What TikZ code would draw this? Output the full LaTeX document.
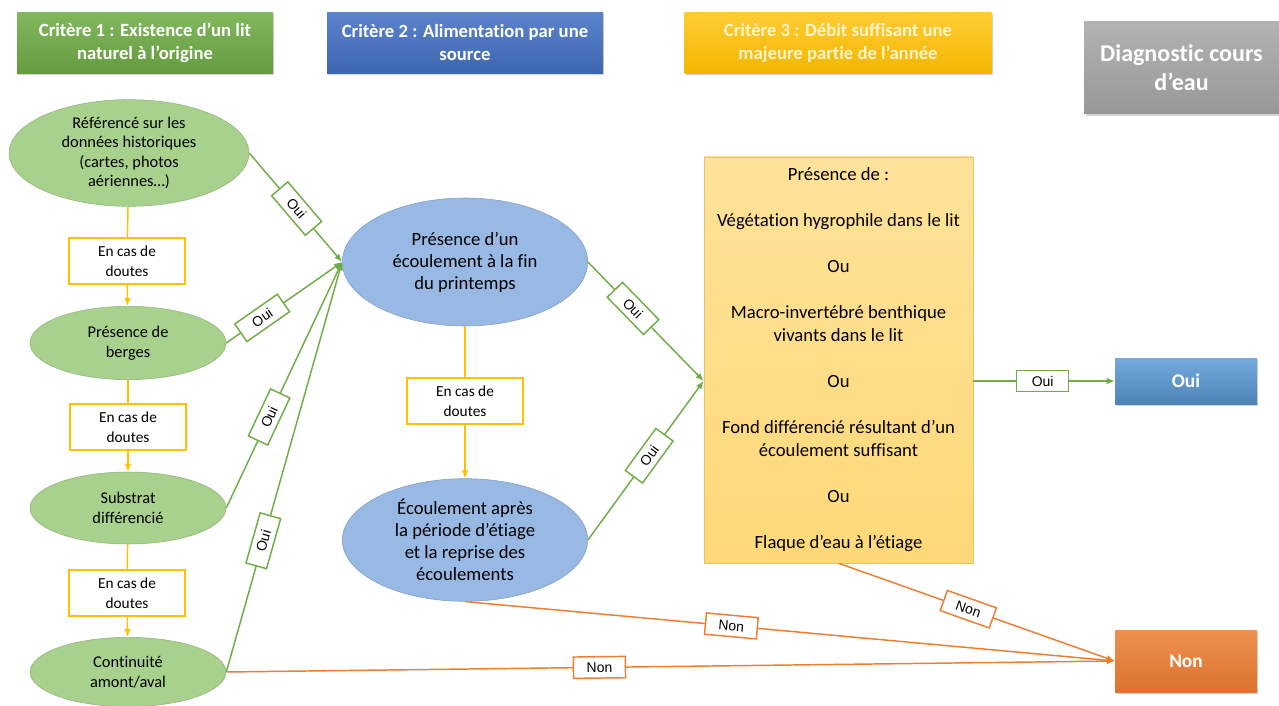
\documentclass[tikz,border=0pt]{standalone}
\usepackage{fontspec}
\setmainfont[Ligatures=NoCommon]{Carlito}
\newfontfamily\arialfont{Liberation Sans}
\usepackage{tikz}
\usetikzlibrary{arrows.meta}
\usetikzlibrary{positioning}
\usetikzlibrary{shapes.geometric}
\usetikzlibrary{shadows}
\definecolor{critgreen}{RGB}{112,173,71}
\definecolor{critblue}{RGB}{68,114,196}
\definecolor{crityellow}{RGB}{255,192,0}
\definecolor{critgray}{RGB}{165,165,165}
\definecolor{paleyellow}{RGB}{255,244,205}
\definecolor{leafgreen}{RGB}{169,209,142}
\definecolor{skyblue}{RGB}{152,185,228}
\definecolor{sandorange}{RGB}{255,217,120}
\definecolor{ouiblue}{RGB}{91,155,213}
\definecolor{nonorange}{RGB}{237,125,49}
\tikzset{header/.style = {rectangle, align=center, inner sep=0pt, text=white,
                          font=\bfseries\fontsize{14}{17.25}\selectfont,
                          minimum height=45.75pt,
                          drop shadow={shadow xshift=1pt, shadow yshift=-1.5pt, opacity=0.35}},
         greenoval/.style = {ellipse, inner sep=0pt, align=center, fill=leafgreen,
                             draw=leafgreen!85!black, line width=0.4pt,
                             font=\fontsize{12.3}{14.6}\selectfont},
         blueoval/.style = {ellipse, inner sep=0pt, align=center, fill=skyblue,
                            draw=skyblue!85!black, line width=0.4pt,
                            font=\fontsize{14}{16.5}\selectfont,
                            minimum width=184pt},
         doubt/.style = {rectangle, draw=crityellow, line width=0.9pt, fill=white,
                         align=center, inner sep=0pt, minimum width=87pt, minimum height=34.5pt,
                         font=\fontsize{11.5}{15}\selectfont},
         result/.style = {rectangle, inner sep=0pt, text=white, minimum width=106.5pt,
                          font=\bfseries\fontsize{14.5}{17}\selectfont,
                          drop shadow={shadow xshift=1pt, shadow yshift=-1.5pt, opacity=0.35}},
         lbl/.style = {rectangle, draw, fill=white, sloped, inner sep=0pt,
                       minimum width=39pt, minimum height=16pt, text=black,
                       font=\arialfont\fontsize{10.5}{12}\selectfont},
         yesline/.style = {draw=critgreen, line width=1.1pt},
         noline/.style = {draw=nonorange, line width=1.1pt},
         doubtline/.style = {draw=crityellow, line width=1.1pt},
         tip/.style = {-{Latex[length=6pt,width=5pt]}}}

\begin{document}
\begin{tikzpicture}[x=0.75pt, y=-0.75pt]
  \useasboundingbox (0,0) rectangle (1279,706);
  \node [header, minimum width=192pt, top color=critgreen!88!white, bottom color=critgreen!90!black]
        (crit1) at (145,43) {Critère 1 : Existence d’un lit\\naturel à l’origine};
  \node [header, minimum width=207pt, top color=critblue!88!white, bottom color=critblue!90!black]
        (crit2) at (465,43) {Critère 2 : Alimentation par une\\source};
  \node [header, minimum width=230pt, text=paleyellow, top color=crityellow!80!white, bottom color=crityellow!95!black]
        (crit3) at (838,43) {Critère 3 : Débit suffisant une\\majeure partie de l’année};
  \node [header, minimum width=146pt, minimum height=69pt, font=\bfseries\fontsize{18}{21.75}\selectfont,
         top color=critgray!85!white, bottom color=critgray!92!black]
        (diag) at (1181.5,68) {Diagnostic cours\\d’eau};

  \node [greenoval, minimum width=180pt, minimum height=80pt] (hist) at (129,153)
        {Référencé sur les\\données historiques\\(cartes, photos\\aériennes…)};
  \node [greenoval, minimum width=147pt, minimum height=55pt] (berges) at (128,343)
        {Présence de\\berges};
  \node [greenoval, minimum width=147pt, minimum height=54pt] (substrat) at (128,508)
        {Substrat\\différencié};
  \node [greenoval, minimum width=147pt, minimum height=52pt] (amont) at (128,672)
        {Continuité\\amont/aval};
  \node [doubt] (doubt1) at (127,261) {En cas de\\doutes};
  \node [doubt] (doubt2) at (128,427) {En cas de\\doutes};
  \node [doubt] (doubt3) at (127,593) {En cas de\\doutes};

  \node [blueoval, minimum height=96pt] (printemps) at (465,262)
        {Présence d’un\\écoulement à la fin\\du printemps};
  \node [blueoval, minimum height=92pt] (etiage) at (465,540)
        {Écoulement après\\la période d’étiage\\et la reprise des\\écoulements};
  \node [doubt] (doubt4) at (465,401) {En cas de\\doutes};

  \node [rectangle, inner sep=0pt, minimum width=202pt, minimum height=304.5pt, align=center,
         top color=sandorange!75!white, bottom color=sandorange, draw=sandorange!90!black, line width=0.4pt,
         font=\fontsize{14}{17.25}\selectfont] (presence) at (838.5,360)
        {Présence de :\\[17.25pt]Végétation hygrophile dans le lit\\[17.25pt]Ou\\[17.25pt]%
         Macro-invertébré benthique\\vivants dans le lit\\[17.25pt]Ou\\[17.25pt]%
         Fond différencié résultant d’un\\écoulement suffisant\\[17.25pt]Ou\\[17.25pt]%
         Flaque d’eau à l’étiage};

  \node [result, minimum height=34.5pt, top color=ouiblue!85!white, bottom color=ouiblue!85!black]
        (oui) at (1186,381) {Oui};
  \node [result, minimum height=46.5pt, top color=nonorange!85!white, bottom color=nonorange!92!black]
        (non) at (1186,661) {Non};

  \draw [doubtline] (hist) -- (doubt1);
  \draw [doubtline, tip] (doubt1) -- (berges);
  \draw [doubtline] (berges) -- (doubt2);
  \draw [doubtline, tip] (doubt2) -- (substrat);
  \draw [doubtline] (substrat) -- (doubt3);
  \draw [doubtline, tip] (doubt3) -- (amont);
  \draw [doubtline] (printemps) -- (doubt4);
  \draw [doubtline, tip] (doubt4) -- (etiage);

  \draw [yesline, tip] (hist.east) -- (printemps.west) node [lbl, draw=critgreen, pos=0.51] {Oui};
  \draw [yesline, tip] (berges.east) -- (printemps.west) node [lbl, draw=critgreen, pos=0.31] {Oui};
  \draw [yesline, tip] (substrat.east) -- (printemps.west) node [lbl, draw=critgreen, pos=0.37] {Oui};
  \draw [yesline, tip] (amont.east) -- (printemps.west) node [lbl, draw=critgreen, pos=0.32] {Oui};
  \draw [yesline, tip] (printemps.east) -- (presence.west |- oui) node [lbl, draw=critgreen, pos=0.39] {Oui};
  \draw [yesline, tip] (etiage.east) -- (presence.west |- oui) node [lbl, draw=critgreen, pos=0.53] {Oui};
  \draw [yesline, tip] (presence.east |- oui) -- (oui.west) node [lbl, draw=critgreen, pos=0.49] {Oui};

  \draw [noline, tip] (presence.south) -- (non.west) node [lbl, draw=nonorange, pos=0.47] {Non};
  \draw [noline, tip] (etiage.south) -- (non.west) node [lbl, draw=nonorange, pos=0.41] {Non};
  \draw [noline, tip] (amont.east) -- (non.west) node [lbl, draw=nonorange, pos=0.42] {Non};
\end{tikzpicture}
\end{document}
